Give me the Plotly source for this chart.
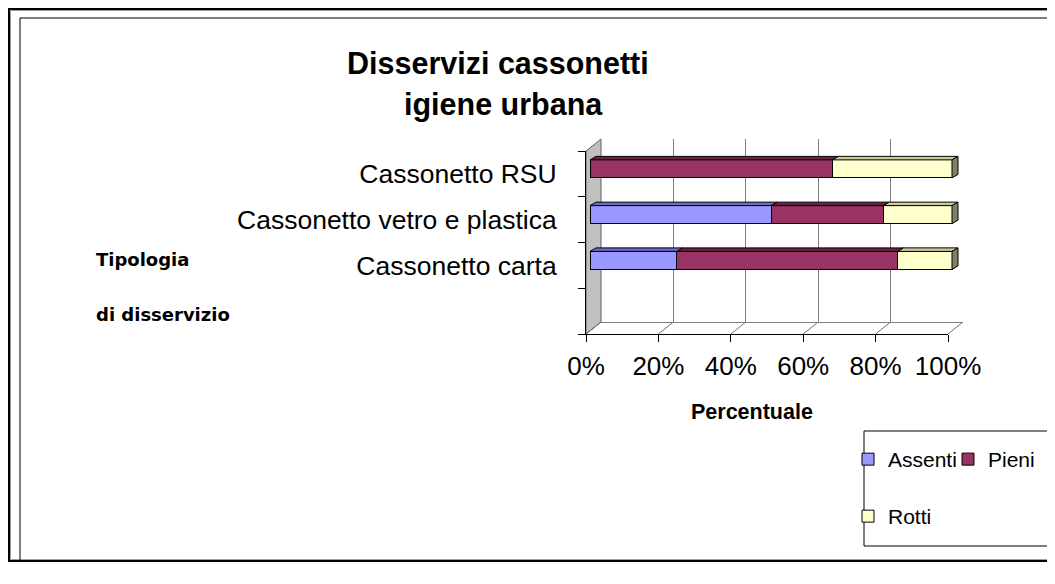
import plotly.graph_objects as go

# ---------------- data ----------------
categories = ["Cassonetto RSU", "Cassonetto vetro e plastica", "Cassonetto carta"]
series_names = ["Assenti", "Pieni", "Rotti"]
assenti = [0, 50, 24]
pieni = [67, 31, 61]
rotti = [33, 19, 15]
x_tick_values = [0, 20, 40, 60, 80, 100]
x_tick_labels = ["0%", "20%", "40%", "60%", "80%", "100%"]

# ---------------- style ----------------
FONT = "Liberation Sans, Arial, sans-serif"
GOTHIC = "DejaVu Sans, sans-serif"
front_colors = ["#9999FF", "#993366", "#FFFFCC"]
top_colors = ["#6B6BC8", "#6A2347", "#CCCC99"]
side_color = "#808066"

W, H = 1055, 584
OFF = 8  # page body margin


def px(x):
    return (x - OFF) / W


def py(y):
    return 1 - (y - OFF) / H


# geometry of the pseudo-3D frame (screen pixels)
FX0, FX1 = 586, 948          # front frame: 0% .. 100%
FY0, FY1 = 151, 334          # front frame top / bottom
DX, DY = 15, -12             # wall depth
SCALE = (FX1 - FX0) / 100.0  # px per percent
NB = 4                       # category bands (one empty at bottom)
BAND = (FY1 - FY0) / NB
BAR_OFF_X, BAR_OFF_Y = 4, -5  # bars' front face offset
BAR_W = 18 / BAND
DEPTH_X = 6 / SCALE
DEPTH_Y = 3.5 / BAND

n = len(categories)
pos = [n - i for i in range(n)]  # RSU at top

fig = go.Figure()

# empty traces to create frame subplots
fig.add_trace(go.Scatter(x=[], y=[], xaxis="x", yaxis="y", showlegend=False, hoverinfo="skip"))
fig.add_trace(go.Scatter(x=[], y=[], xaxis="x2", yaxis="y2", showlegend=False, hoverinfo="skip"))

series = [assenti, pieni, rotti]
legend_of = ["legend", "legend", "legend2"]
for name, vals, col, lg in zip(series_names, series, front_colors, legend_of):
    fig.add_trace(go.Bar(
        x=vals, y=pos, orientation="h", name=name, width=BAR_W,
        marker=dict(color=col, line=dict(color="black", width=1)),
        xaxis="x3", yaxis="y3", legend=lg, hoverinfo="skip",
    ))

# top faces of bar segments
cum = [0.0] * n
for s, vals in enumerate(series):
    xs, ys = [], []
    for i in range(n):
        c0, c1 = cum[i], cum[i] + vals[i]
        cum[i] = c1
        if vals[i] <= 0:
            continue
        yt = pos[i] + BAR_W / 2
        xs += [c0, c1, c1 + DEPTH_X, c0 + DEPTH_X, c0, None]
        ys += [yt, yt, yt + DEPTH_Y, yt + DEPTH_Y, yt, None]
    fig.add_trace(go.Scatter(
        x=xs, y=ys, mode="lines", fill="toself", fillcolor=top_colors[s],
        line=dict(color="black", width=1), xaxis="x3", yaxis="y3",
        showlegend=False, hoverinfo="skip",
    ))

# right side faces
xs, ys = [], []
for i in range(n):
    end = cum[i]
    yb, yt = pos[i] - BAR_W / 2, pos[i] + BAR_W / 2
    xs += [end, end, end + DEPTH_X, end + DEPTH_X, end, None]
    ys += [yb, yt, yt + DEPTH_Y, yb + DEPTH_Y, yb, None]
fig.add_trace(go.Scatter(
    x=xs, y=ys, mode="lines", fill="toself", fillcolor=side_color,
    line=dict(color="black", width=1), xaxis="x3", yaxis="y3",
    showlegend=False, hoverinfo="skip",
))

# ---------------- shapes ----------------
shapes = []
wall = (f"M {px(FX0)},{py(FY0)} L {px(FX0+DX)},{py(FY0+DY)} "
        f"L {px(FX0+DX)},{py(FY1+DY)} L {px(FX0)},{py(FY1)} Z")
shapes.append(dict(type="path", path=wall, xref="paper", yref="paper",
                   fillcolor="#C0C0C0", line=dict(color="#606060", width=1), layer="below"))
for v in x_tick_values:
    xf = FX0 + v * SCALE
    shapes.append(dict(type="line", xref="paper", yref="paper",
                       x0=px(xf), y0=py(FY1), x1=px(xf + DX), y1=py(FY1 + DY),
                       line=dict(color="#707070", width=1), layer="below"))
# outer frame (black with grey inner edge) and inner frame
shapes.append(dict(type="rect", xref="paper", yref="paper",
                   x0=px(9), y0=py(9), x1=px(1052), y1=py(561),
                   line=dict(color="black", width=2), layer="above"))
shapes.append(dict(type="rect", xref="paper", yref="paper",
                   x0=px(10.5), y0=py(10.5), x1=px(1050.5), y1=py(559.5),
                   line=dict(color="#A0A0A0", width=1), layer="above"))
shapes.append(dict(type="rect", xref="paper", yref="paper",
                   x0=px(20), y0=py(18), x1=px(1052), y1=py(561),
                   line=dict(color="black", width=1), layer="above"))
# legend box
shapes.append(dict(type="rect", xref="paper", yref="paper",
                   x0=px(864), y0=py(431), x1=px(1052), y1=py(546),
                   line=dict(color="black", width=1), layer="above"))

annotations = [
    dict(text="<b>Disservizi cassonetti</b>", x=px(498), y=py(63), xref="paper", yref="paper",
         showarrow=False, xanchor="center", yanchor="middle",
         font=dict(family=FONT, size=30.5, color="black")),
    dict(text="<b>igiene urbana</b>", x=px(503), y=py(104), xref="paper", yref="paper",
         showarrow=False, xanchor="center", yanchor="middle",
         font=dict(family=FONT, size=30.5, color="black")),
    dict(text="<b>Tipologia</b>", x=px(94), y=py(259), xref="paper", yref="paper",
         showarrow=False, xanchor="left", yanchor="middle",
         font=dict(family=GOTHIC, size=18, color="black")),
    dict(text="<b>di disservizio</b>", x=px(94), y=py(314), xref="paper", yref="paper",
         showarrow=False, xanchor="left", yanchor="middle",
         font=dict(family=GOTHIC, size=18, color="black")),
    dict(text="<b>Percentuale</b>", x=px(752), y=py(412), xref="paper", yref="paper",
         showarrow=False, xanchor="center", yanchor="middle",
         font=dict(family=FONT, size=21.5, color="black")),
]

bar_x0 = FX0 + BAR_OFF_X
bar_ybot = FY1 + BAR_OFF_Y
x3_max = 104
y3_min, y3_max = -0.5, 3.8

fig.update_layout(
    width=W, height=H,
    margin=dict(l=0, r=0, t=0, b=0, autoexpand=False),
    paper_bgcolor="white", plot_bgcolor="rgba(0,0,0,0)",
    barmode="stack",
    showlegend=True,
    font=dict(family=FONT, color="black"),
    xaxis=dict(domain=[px(FX0 + DX), px(FX1 + DX)], range=[0, 100], anchor="y",
               showgrid=True, gridcolor="#808080", gridwidth=1, tick0=0, dtick=20,
               showticklabels=False, ticks="", zeroline=False,
               showline=True, linecolor="#808080", linewidth=1, fixedrange=True),
    yaxis=dict(domain=[py(FY1 + DY), py(FY0 + DY)], range=[0, 1], anchor="x",
               showgrid=False, showticklabels=False, ticks="", zeroline=False,
               showline=False, fixedrange=True),
    xaxis2=dict(domain=[px(FX0), px(FX1)], range=[0, 100], anchor="y2",
                tickmode="array", tickvals=x_tick_values, ticktext=x_tick_labels,
                ticks="outside", ticklen=7, tickcolor="black", tickwidth=1,
                showline=True, linecolor="black", linewidth=1,
                showgrid=False, zeroline=False, ticklabelstandoff=2,
                tickfont=dict(family=FONT, size=26, color="black"), fixedrange=True),
    yaxis2=dict(domain=[py(FY1), py(FY0)], range=[-0.5, NB - 0.5], anchor="x2",
                tickmode="array", tickvals=pos, ticktext=categories,
                ticks="", showline=True, linecolor="black", linewidth=1,
                minor=dict(tickmode="array", tickvals=[k - 0.5 for k in range(NB + 1)],
                           ticks="outside", ticklen=7, tickcolor="black", tickwidth=1),
                showgrid=False, zeroline=False, ticklabelstandoff=23,
                tickfont=dict(family=FONT, size=26.5, color="black"), fixedrange=True),
    xaxis3=dict(domain=[px(bar_x0), px(bar_x0 + x3_max * SCALE)], range=[0, x3_max],
                anchor="y3", visible=False, fixedrange=True),
    yaxis3=dict(domain=[py(bar_ybot), py(bar_ybot - (y3_max - y3_min) * BAND)],
                range=[y3_min, y3_max], anchor="x3", visible=False, fixedrange=True),
    legend=dict(orientation="h", x=px(848), y=py(439), xanchor="left", yanchor="top",
                font=dict(family=FONT, size=21, color="black"), bgcolor="rgba(0,0,0,0)",
                borderwidth=0, entrywidth=55, traceorder="normal"),
    legend2=dict(orientation="h", x=px(848), y=py(496), xanchor="left", yanchor="top",
                 font=dict(family=FONT, size=21, color="black"), bgcolor="rgba(0,0,0,0)",
                 borderwidth=0, traceorder="normal"),
    shapes=shapes,
    annotations=annotations,
)

fig.write_html("out.html")
